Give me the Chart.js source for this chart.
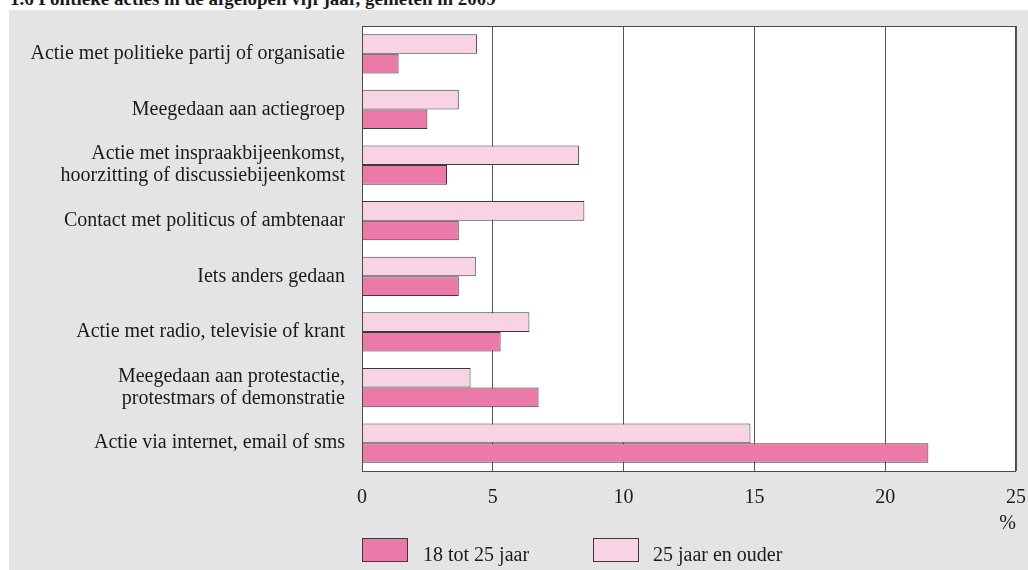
<!DOCTYPE html>
<html>
<head>
  <title>Politieke acties</title>
  <script src="https://cdn.jsdelivr.net/npm/chart.js"></script>
  <style>
    body { margin: 0; width: 1028px; height: 570px; overflow: hidden; position: relative; background: #fff;
           font-family: "Liberation Serif", "DejaVu Serif", serif; color: #1a1a1a; }
    #panel { position: absolute; left: 9px; top: 10px; right: 0; bottom: 0; background: #e3e4e3; }
    #title { position: absolute; left: 10px; top: -11px; font-size: 19px; font-weight: bold; line-height: 19px; white-space: nowrap; }
    #chartBox { position: absolute; left: 0; top: 0; width: 1028px; height: 570px; }
    .key { position: absolute; top: 538px; width: 46px; height: 24px; border: 1px solid #3a3a3a; box-sizing: border-box; }
    .keyText { position: absolute; top: 543px; font-size: 20px; line-height: 22px; white-space: nowrap; }
  </style>
</head>
<body>
  <div id="panel"></div>
  <div id="title">1.6 Politieke acties in de afgelopen vijf jaar, gemeten in 2009</div>
  <div id="chartBox"><canvas id="acties" width="1028" height="570"></canvas></div>

  <!-- legend -->
  <div class="key" style="left: 362px; background: #ec7aa9;"></div>
  <div class="keyText" style="left: 423px;">18 tot 25 jaar</div>
  <div class="key" style="left: 593px; background: #f8d3e3;"></div>
  <div class="keyText" style="left: 653px;">25 jaar en ouder</div>

  <script>
    const categories = [
      "Actie met politieke partij of organisatie",
      "Meegedaan aan actiegroep",
      ["Actie met inspraakbijeenkomst,", "hoorzitting of discussiebijeenkomst"],
      "Contact met politicus of ambtenaar",
      "Iets anders gedaan",
      "Actie met radio, televisie of krant",
      ["Meegedaan aan protestactie,", "protestmars of demonstratie"],
      "Actie via internet, email of sms"
    ];
    const jong = [1.4, 2.5, 3.25, 3.7, 3.7, 5.3, 6.75, 21.65];   // 18 tot 25 jaar
    const ouder = [4.4, 3.7, 8.3, 8.5, 4.35, 6.4, 4.15, 14.85];  // 25 jaar en ouder
    const xTicks = [0, 5, 10, 15, 20, 25];

    const serif = "'Liberation Serif', 'DejaVu Serif', serif";

    // white plot area with a frame around it
    const plotFrame = {
      id: 'plotFrame',
      beforeDraw(chart) {
        const a = chart.chartArea, ctx = chart.ctx;
        ctx.save();
        ctx.fillStyle = '#ffffff';
        ctx.fillRect(a.left, a.top, a.right - a.left, a.bottom - a.top);
        ctx.restore();
      },
      afterDraw(chart) {
        const a = chart.chartArea, ctx = chart.ctx;
        ctx.save();
        ctx.strokeStyle = '#4a4a4a';
        ctx.lineWidth = 1;
        ctx.strokeRect(a.left + 0.5, a.top + 0.5, a.right - a.left - 1, a.bottom - a.top);
        ctx.restore();
      }
    };

    new Chart(document.getElementById('acties'), {
      type: 'bar',
      data: {
        labels: categories,
        datasets: [
          { label: '25 jaar en ouder', data: ouder, backgroundColor: '#f8d3e3', borderColor: '#3a3a3a', borderWidth: 1 },
          { label: '18 tot 25 jaar', data: jong, backgroundColor: '#ec7aa9', borderColor: '#3a3a3a', borderWidth: 1 }
        ]
      },
      options: {
        indexAxis: 'y',
        responsive: false,
        animation: false,
        layout: { padding: { left: 0, top: 26, right: 12, bottom: 0 } },
        datasets: { bar: { categoryPercentage: 0.707, barPercentage: 1 } },
        plugins: { legend: { display: false }, tooltip: { enabled: false } },
        scales: {
          x: {
            min: 0, max: 25,
            afterFit(scale) { scale.height = 99; scale.paddingRight = 0; scale.paddingLeft = 0; },
            afterBuildTicks(scale) { scale.ticks = xTicks.map(v => ({ value: v })); },
            grid: { color: '#555555', lineWidth: 1, drawTicks: false },
            border: { display: false },
            ticks: { color: '#1a1a1a', padding: 15, font: { family: serif, size: 20 } },
            title: {
              display: true, text: '%', align: 'end', color: '#1a1a1a',
              font: { family: serif, size: 20 }, padding: { top: 0, bottom: 34 }
            }
          },
          y: {
            afterFit(scale) { scale.width = 362; scale.paddingTop = 0; scale.paddingBottom = 0; },
            grid: { display: false },
            border: { display: false },
            ticks: { color: '#1a1a1a', padding: 9, font: { family: serif, size: 20, lineHeight: 1.1 } }
          }
        }
      },
      plugins: [plotFrame]
    });
  </script>
</body>
</html>
